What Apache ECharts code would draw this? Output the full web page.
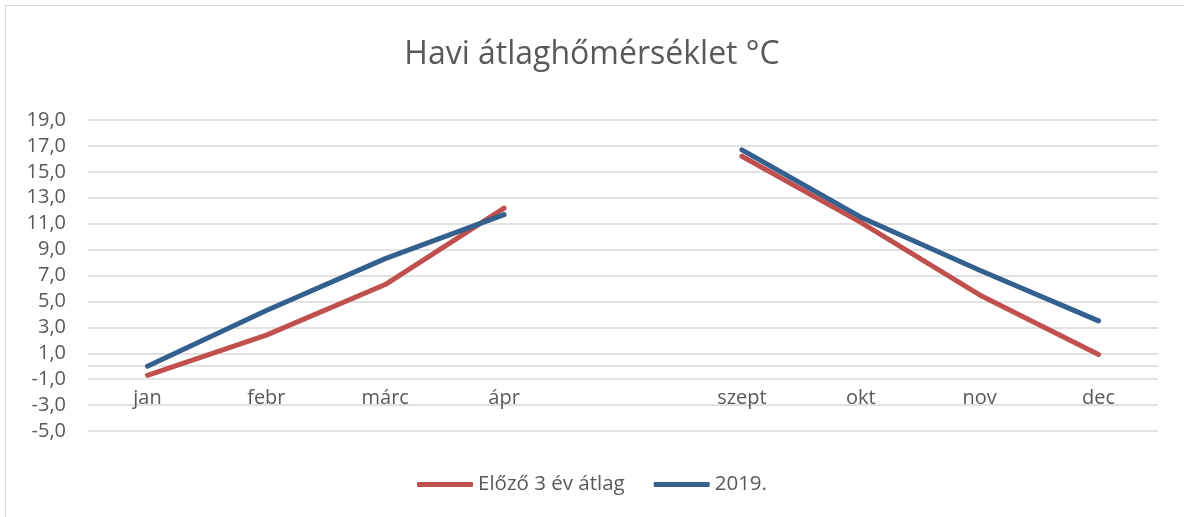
<!DOCTYPE html>
<html>
<head>
<meta charset="utf-8">
<script src="https://cdn.jsdelivr.net/npm/echarts@6/dist/echarts.min.js"></script>
<style>
  html, body { margin: 0; padding: 0; background: #fff; overflow: hidden; }
  #frame { position: absolute; left: 5px; top: 5px; width: 1200px; height: 530px;
    border-left: 1.5px solid #d9d9d9; border-top: 1.5px solid #d9d9d9; }
  #chart { position: absolute; left: 0; top: 0; width: 1184px; height: 517px; }
</style>
</head>
<body>
<div id="frame"></div>
<div id="chart"></div>
<script>
// Havi átlaghőmérséklet – two series, gap for the summer months
const months = ['jan', 'febr', 'márc', 'ápr', '', 'szept', 'okt', 'nov', 'dec'];
const avg3y = [-0.7, 2.4, 6.3, 12.2, null, 16.2, 11.1, 5.5, 0.9];
const y2019 = [0.0, 4.3, 8.3, 11.7, null, 16.7, 11.5, 7.4, 3.5];

const RED = '#c0504d';
const BLUE = '#33608f';
const TXT = '#595959';
const GRID = '#d9d9d9';
const FONT = '"Open Sans", Lato, sans-serif';

const chart = echarts.init(document.getElementById('chart'), null, { renderer: 'canvas' });

const line = (name, data, color, extra) => Object.assign({
  name, type: 'line', data, showSymbol: false, connectNulls: false,
  lineStyle: { width: 5, color, cap: 'round', join: 'round' }, color,
  emphasis: { disabled: true },
}, extra || {});

chart.setOption({
  animation: false,
  textStyle: { fontFamily: FONT },
  title: {
    text: 'Havi átlaghőmérséklet °C', left: 'center', top: 34,
    textStyle: { color: TXT, fontSize: 32, fontWeight: 'normal', fontFamily: FONT },
  },
  legend: {
    top: 469, left: 'center', itemWidth: 56, itemHeight: 5, itemGap: 29,
    icon: 'roundRect',
    textStyle: { color: TXT, fontSize: 20.5, fontFamily: FONT },
    data: ['Előző 3 év átlag', '2019.'],
  },
  grid: { left: 88, right: 26, top: 120, bottom: 86, containLabel: false },
  xAxis: {
    type: 'category', data: months, boundaryGap: true,
    axisLine: { show: false },
    axisTick: { show: false },
    // labels sit just under the zero line, as in the original
    axisLabel: { color: TXT, fontSize: 20, margin: -43, interval: 0, fontFamily: FONT },
  },
  yAxis: {
    type: 'value', min: -5, max: 19, interval: 2,
    axisLine: { show: false }, axisTick: { show: false },
    axisLabel: { color: TXT, fontSize: 20, margin: 22, fontFamily: FONT,
      formatter: (v) => v.toFixed(1).replace('.', ',') },
    splitLine: { lineStyle: { color: GRID, width: 1.5 } },
  },
  series: [
    line('Előző 3 év átlag', avg3y, RED, {
      z: 3,
      markLine: {
        silent: true, symbol: 'none', label: { show: false },
        lineStyle: { color: GRID, width: 1.5, type: 'solid' },
        data: [{ yAxis: 0 }],
        z: 1,
      },
    }),
    line('2019.', y2019, BLUE, { z: 4 }),
  ],
});
</script>
</body>
</html>
